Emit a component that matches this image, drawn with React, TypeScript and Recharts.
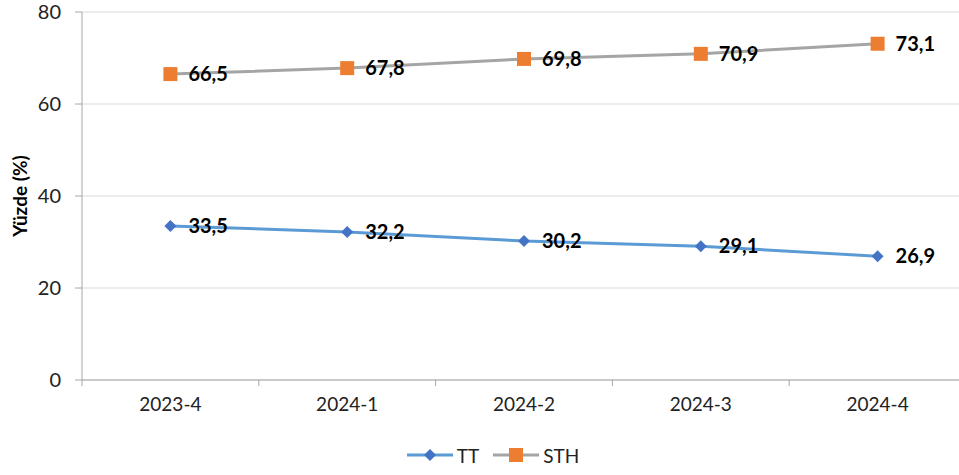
import { LineChart, Line, XAxis, YAxis, CartesianGrid, Legend, LabelList } from "recharts"

// Quarters shown on the x axis
const quarters = ["2023-4", "2024-1", "2024-2", "2024-3", "2024-4"]

// Shares in percent
const ttValues = [33.5, 32.2, 30.2, 29.1, 26.9]
const sthValues = [66.5, 67.8, 69.8, 70.9, 73.1]

const yTicks = [0, 20, 40, 60, 80]

const data = quarters.map((q, i) => ({ name: q, TT: ttValues[i], STH: sthValues[i] }))

const COLORS = {
  ttLine: "#5B9BD5",
  ttMarker: "#4472C4",
  sthLine: "#A5A5A5",
  sthMarker: "#ED7D31",
}

const FONT = "Lato, 'Open Sans', sans-serif"
const BAND = 176.8

const fmt = (v: any) => String(v).replace(".", ",")

const Diamond = (props: any) => {
  const { cx, cy } = props
  if (cx == null || cy == null) return null
  const r = 6
  return (
    <path
      d={`M${cx},${cy - r}L${cx + r},${cy}L${cx},${cy + r}L${cx - r},${cy}Z`}
      fill={COLORS.ttMarker}
    />
  )
}

const Square = (props: any) => {
  const { cx, cy } = props
  if (cx == null || cy == null) return null
  const s = 7
  return <rect x={cx - s} y={cy - s} width={s * 2} height={s * 2} fill={COLORS.sthMarker} />
}

const XTick = (props: any) => {
  const { x, y, payload, index } = props
  const last = index === quarters.length - 1
  return (
    <g>
      <line x1={x - BAND / 2} x2={x - BAND / 2} y1={y - 8} y2={y - 2} stroke="#a6a6a6" />
      {last && <line x1={x + BAND / 2} x2={x + BAND / 2} y1={y - 8} y2={y - 2} stroke="#a6a6a6" />}
      <text x={x} y={y + 23} textAnchor="middle" fontSize={19} fill="#222" fontFamily={FONT}>
        {payload.value}
      </text>
    </g>
  )
}

const YLabel = (props: any) => {
  const { viewBox } = props
  const cy = viewBox.y + viewBox.height / 2
  return (
    <text
      x={19}
      y={cy}
      transform={`rotate(-90, 19, ${cy})`}
      textAnchor="middle"
      dominantBaseline="central"
      style={{ fontSize: 19, fontWeight: 700, fill: "#000", fontFamily: FONT }}
    >
      Yüzde (%)
    </text>
  )
}

const LegendContent = () => (
  <div
    style={{
      height: 40,
      display: "flex",
      justifyContent: "center",
      alignItems: "center",
      gap: 14,
      fontFamily: FONT,
      fontSize: 19,
      color: "#222",
      paddingTop: 10,
      boxSizing: "border-box",
      marginLeft: 20,
    }}
  >
    <span style={{ display: "flex", alignItems: "center", gap: 4 }}>
      <svg width={46} height={16}>
        <line x1={0} x2={46} y1={8} y2={8} stroke={COLORS.ttLine} strokeWidth={3} />
        <path d="M23,2L29,8L23,14L17,8Z" fill={COLORS.ttMarker} />
      </svg>
      TT
    </span>
    <span style={{ display: "flex", alignItems: "center", gap: 4 }}>
      <svg width={46} height={16}>
        <line x1={0} x2={46} y1={8} y2={8} stroke={COLORS.sthLine} strokeWidth={3} />
        <rect x={16} y={1} width={14} height={14} fill={COLORS.sthMarker} />
      </svg>
      STH
    </span>
  </div>
)

const labelStyle = { fontSize: 20, fontWeight: 700, fill: "#000", fontFamily: FONT }

export default function App() {
  return (
    <div style={{ width: 959, height: 475, overflow: "hidden", position: "relative" }}>
      <style>{"body{margin:0;overflow:hidden}"}</style>
      <LineChart
        width={980}
        height={475}
        data={data}
        margin={{ top: 12, right: 14, left: 0, bottom: 5 }}
      >
        <CartesianGrid vertical={false} stroke="#d9d9d9" />
        <XAxis
          dataKey="name"
          padding={{ left: BAND / 2, right: BAND / 2 }}
          axisLine={{ stroke: "#a6a6a6" }}
          tickLine={false}
          tick={<XTick />}
          height={50}
          interval={0}
        />
        <YAxis
          domain={[0, 80]}
          ticks={yTicks}
          width={82}
          axisLine={{ stroke: "#a6a6a6" }}
          tickLine={{ stroke: "#a6a6a6" }}
          tickSize={7}
          tickMargin={14}
          tick={{ fontSize: 20, fill: "#222", fontFamily: FONT }}
          label={<YLabel />}
        />
        <Legend verticalAlign="bottom" content={<LegendContent />} />
        <Line
          dataKey="TT"
          stroke={COLORS.ttLine}
          strokeWidth={3}
          dot={<Diamond />}
          activeDot={false}
          isAnimationActive={false}
        >
          <LabelList dataKey="TT" position="right" offset={18} formatter={fmt} style={labelStyle} />
        </Line>
        <Line
          dataKey="STH"
          stroke={COLORS.sthLine}
          strokeWidth={3}
          dot={<Square />}
          activeDot={false}
          isAnimationActive={false}
        >
          <LabelList dataKey="STH" position="right" offset={18} formatter={fmt} style={labelStyle} />
        </Line>
      </LineChart>
    </div>
  )
}
